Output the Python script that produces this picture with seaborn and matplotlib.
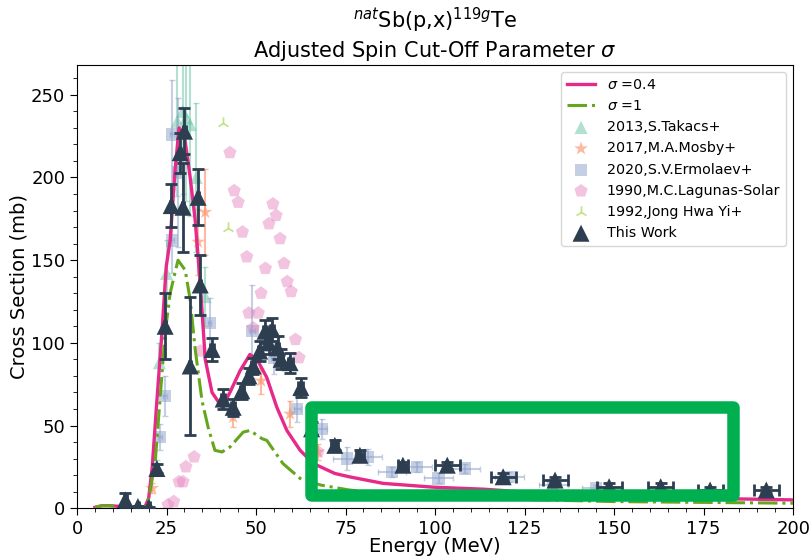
import numpy as np
import pandas as pd
import matplotlib
matplotlib.use("Agg")
import matplotlib.pyplot as plt
import matplotlib.patches as patches
from matplotlib.ticker import MultipleLocator
import seaborn as sns

# model curves
E_04 = [5, 7, 9, 11, 14, 17, 19, 20, 21, 22.3, 23.7, 24.9, 26, 27.4, 28.5, 30, 31.6, 33, 33.8, 34.4,
        35.8, 37.7, 40.5, 42.7, 45.5, 48.3, 50.5, 53, 55.8, 58.6, 62.3, 66, 68, 72, 76, 85.5, 99.5,
        113.5, 130, 150, 175, 200]
sig_04 = [0.5, 1.5, 1.5, 1.2, 0.8, 0.5, 1, 6, 25, 65, 106, 146, 162, 205, 230, 225, 200, 174, 152, 136,
          90, 70, 61, 70, 83, 93, 89, 79, 61, 47, 35, 27, 25, 21, 19, 15, 12.7, 11.5, 9, 7.5, 6, 5]
E_1 = [5, 7, 9, 11, 14, 17, 19, 20, 21.8, 23, 24.6, 26, 28.2, 30.2, 31.6, 33, 34.9, 36.6, 38.5, 40.5,
       42.7, 46.4, 48.3, 51.7, 53, 57.5, 62.3, 68, 76, 90, 110, 130, 150, 175, 200]
sig_1 = [0.5, 1.5, 1.5, 1.2, 0.8, 0.5, 1, 6, 27, 61, 106, 130, 150, 144, 126, 96, 65, 49, 35, 34,
         37, 46, 47, 42, 41, 27, 18, 14, 11, 8, 6, 5, 4, 3.5, 3]

# 2013 Takacs
tak_E = [22.3, 23.0, 25.0, 28.0, 29.5, 30.5, 31.6, 33.3, 35.8]
tak_s = [25, 88, 142, 234, 240, 236, 232, 200, 128]
tak_err = [4, 12, 20, 45, 50, 50, 55, 45, 18]

# 2017 Mosby
mos_E = [21.0, 33.8, 35.8, 43.6, 51.4, 59.5, 67.3]
mos_s = [12, 161, 179, 55, 77, 57, 34]
mos_err = [3, 20, 26, 6, 8, 8, 5]

# 2020 Ermolaev
erm_E = [23.2, 24.6, 26.5, 26.5, 28.2, 37.0, 49.0, 55.0, 61.5, 68.4, 75.4, 81.3, 88.0, 95.0, 101.0,
         108.4, 120.7, 133.0, 145.0]
erm_s = [43, 68, 162, 226, 203, 112, 107, 91, 60, 48, 30, 31, 22, 25, 18, 24, 18.7, 14, 12]
erm_err = [8, 12, 20, 33, 45, 15, 28, 10, 8, 6, 7, 5, 3, 3, 3, 3, 3, 2, 2]
erm_xerr = [0.5, 0.5, 0.5, 0.5, 0.5, 0.5, 0.7, 0.7, 1, 1.5, 4, 4, 4, 4, 4, 4, 4, 4, 4]

# 1990 Lagunas-Solar
lag_E = [25.4, 27.0, 28.5, 29.6, 30.4, 32.7, 34.4, 42.7, 43.9, 45.0, 46.2, 47.4, 48.0, 49.2, 50.6,
         51.4, 52.6, 53.6, 54.7, 55.6, 56.7, 57.8, 58.7, 59.8, 61.0, 62.0, 67.3]
lag_s = [2, 4, 16, 16, 25, 31, 95, 215, 192, 185, 167, 152, 118, 109, 118, 130, 145, 172, 184, 177,
         163, 148, 137, 131, 102, 91, 34]

# 1992 Jong Hwa Yi
yi_E = [40.8, 42.2]
yi_s = [233, 169.5]

# This work
tw_E = [13.5, 17.0, 20.1, 22.3, 24.6, 26.3, 28.8, 30.0, 29.6, 31.6, 33.8, 34.4, 37.7, 40.8, 43.6,
        46.0, 48.0, 49.2, 51.0, 52.5, 53.5, 54.5, 56.0, 57.0, 59.5, 62.5, 65.5, 72.0, 79.0, 91.0,
        103.4, 119.0, 133.5, 148.6, 163.0, 176.8, 192.5]
tw_s = [5, 1, 0.5, 24, 110, 183, 215, 228, 182, 86, 188, 135, 96, 66, 61, 71, 80, 86, 95, 107, 100,
        108, 97, 90, 88, 73, 48, 38, 32, 26, 26, 19, 17, 13, 13, 11, 11]
tw_err = [4, 0.5, 0.5, 3, 20, 13, 12, 14, 27, 42, 17, 18, 7, 6, 5, 5, 5, 5, 6, 7, 7, 7, 7, 6, 6, 6,
          4, 3, 3, 2, 2, 2, 2, 2, 2, 2, 2]
tw_xerr = [0.5, 0.3, 0.3, 0.3, 0.3, 0.3, 0.3, 0.3, 0.3, 0.3, 0.3, 0.3, 0.5, 0.5, 0.5, 0.5, 0.5,
           0.5, 0.5, 0.5, 0.5, 0.5, 0.5, 0.5, 0.7, 0.7, 1, 1, 1.2, 1.5, 3.5, 3.5, 3.5, 3.5, 3.5, 3.5, 3.5]

plt.rcParams['font.family'] = ['DejaVu Sans']
fig, ax = plt.subplots(figsize=(8.11, 5.56), dpi=100)
fig.subplots_adjust(left=0.095, right=0.978, top=0.883, bottom=0.086)

sns.lineplot(x=E_04, y=sig_04, color='#e7298a', lw=2.4, label='$\\sigma$ =0.4', ax=ax, zorder=3)
sns.lineplot(x=E_1, y=sig_1, color='#66a61e', lw=2.2, ls='-.', label='$\\sigma$ =1', ax=ax, zorder=3)

ax.errorbar(tak_E, tak_s, yerr=tak_err, fmt='none', ecolor='#66c2a5', elinewidth=1.5, capsize=2, alpha=0.5)
sns.scatterplot(x=tak_E, y=tak_s, marker='^', s=90, color='#66c2a5', alpha=0.5, edgecolor='none',
                label='2013,S.Takacs+', ax=ax)

ax.errorbar(mos_E, mos_s, yerr=mos_err, fmt='none', ecolor='#fc8d62', elinewidth=1.5, capsize=2, alpha=0.6)
sns.scatterplot(x=mos_E, y=mos_s, marker='*', s=110, color='#fc8d62', alpha=0.6, edgecolor='none',
                label='2017,M.A.Mosby+', ax=ax)

ax.errorbar(erm_E, erm_s, yerr=erm_err, xerr=erm_xerr, fmt='none', ecolor='#8da0cb', elinewidth=1.5,
            capsize=2, alpha=0.5)
sns.scatterplot(x=erm_E, y=erm_s, marker='s', s=80, color='#8da0cb', alpha=0.5, edgecolor='none',
                label='2020,S.V.Ermolaev+', ax=ax)

sns.scatterplot(x=lag_E, y=lag_s, marker='p', s=100, color='#e78ac3', alpha=0.5, edgecolor='none',
                label='1990,M.C.Lagunas-Solar', ax=ax)

ax.scatter(yi_E, yi_s, marker='2', s=80, color='#a6d854', alpha=0.7, linewidths=1.2,
           label='1992,Jong Hwa Yi+')

ax.errorbar(tw_E, tw_s, yerr=tw_err, xerr=tw_xerr, fmt='none', ecolor='#2c3e50', elinewidth=2,
            capsize=4, capthick=2, zorder=5)
sns.scatterplot(x=tw_E, y=tw_s, marker='^', s=150, color='#2c3e50', edgecolor='none',
                label='This Work', ax=ax, zorder=6)

# highlight box
box = patches.Rectangle((65.4, 7.9), 117.8, 53.2, fill=False, edgecolor='#00b050', lw=9,
                        joinstyle='round', zorder=10)
ax.add_patch(box)

ax.set_xlim(0, 200)
ax.set_ylim(0, 268)
ax.xaxis.set_major_locator(MultipleLocator(25))
ax.xaxis.set_minor_locator(MultipleLocator(5))
ax.yaxis.set_major_locator(MultipleLocator(50))
ax.yaxis.set_minor_locator(MultipleLocator(10))
ax.tick_params(axis='both', which='major', labelsize=13, length=5)
ax.tick_params(axis='both', which='minor', length=3)
ax.set_xlabel('Energy (MeV)', fontsize=14, labelpad=-1)
ax.set_ylabel('Cross Section (mb)', fontsize=14, labelpad=2)
ax.set_title('$^{nat}$Sb(p,x)$^{119g}$Te\nAdjusted Spin Cut-Off Parameter $\\sigma$', fontsize=15)
ax.legend(loc='upper right', fontsize=10.3)

fig.savefig('out.png', dpi=100)
